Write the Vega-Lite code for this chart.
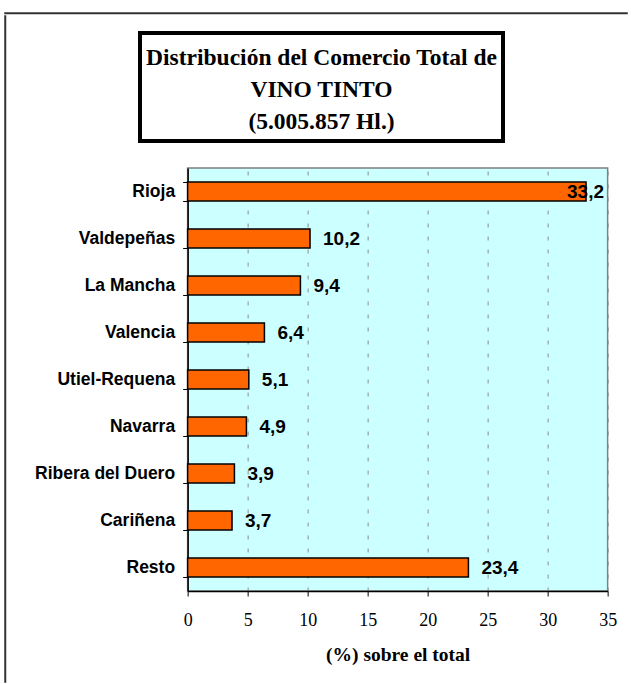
{
  "$schema": "https://vega.github.io/schema/vega-lite/v6.json",
  "padding": {"left": 4, "top": 12, "right": 0, "bottom": 0},
  "background": "white",
  "config": {
    "view": {"stroke": null},
    "locale": {"number": {"decimal": ",", "thousands": ".", "grouping": [3], "currency": ["", " €"]}}
  },
  "datasets": {
    "wine": [
      {"region": "Rioja", "pct": 33.2},
      {"region": "Valdepeñas", "pct": 10.2},
      {"region": "La Mancha", "pct": 9.4},
      {"region": "Valencia", "pct": 6.4},
      {"region": "Utiel-Requena", "pct": 5.1},
      {"region": "Navarra", "pct": 4.9},
      {"region": "Ribera del Duero", "pct": 3.9},
      {"region": "Cariñena", "pct": 3.7},
      {"region": "Resto", "pct": 23.4}
    ],
    "empty": []
  },
  "spacing": 0,
  "vconcat": [
    {
      "data": {"name": "empty"},
      "mark": "rect",
      "width": 622,
      "height": 0.5,
      "view": {"stroke": "#333333", "strokeWidth": 1.5}
    },
    {
      "spacing": 26,
      "hconcat": [
        {
          "data": {"name": "empty"},
          "mark": "rect",
          "width": 0.5,
          "height": 666,
          "view": {"stroke": "#333333", "strokeWidth": 1.5}
        },
        {
          "spacing": 0,
          "center": true,
          "vconcat": [
            {
              "data": {"name": "empty"},
              "mark": "rect",
              "width": 1,
              "height": 15
            },
            {
              "spacing": 0,
              "hconcat": [
                {
                  "data": {"values": [{}]},
                  "width": 363,
                  "height": 108,
                  "view": {"stroke": "black", "strokeWidth": 4, "fill": "white"},
                  "mark": {
                    "type": "text",
                    "text": ["Distribución del Comercio Total de", "VINO TINTO", "(5.005.857 Hl.)"],
                    "font": "Liberation Serif",
                    "fontWeight": "bold",
                    "fontSize": 23.5,
                    "lineHeight": 32,
                    "align": "center",
                    "baseline": "middle",
                    "dy": -29,
                    "color": "black"
                  }
                },
                {
                  "data": {"name": "empty"},
                  "mark": "rect",
                  "width": 160,
                  "height": 1
                }
              ]
            },
            {
              "data": {"name": "empty"},
              "mark": "rect",
              "width": 1,
              "height": 14.5
            },
            {
              "data": {"name": "wine"},
              "width": 420,
              "height": 423,
              "view": {"fill": "#CCFFFF", "stroke": "#808080", "strokeWidth": 1.5},
              "encoding": {
                "y": {
                  "field": "region",
                  "type": "nominal",
                  "sort": null,
                  "scale": {"paddingInner": 0.6, "paddingOuter": 0.3},
                  "axis": {
                    "title": null,
                    "labelFont": "Liberation Sans",
                    "labelFontWeight": "bold",
                    "labelFontSize": 17.5,
                    "labelColor": "black",
                    "labelPadding": 8,
                    "labelLimit": 300,
                    "tickSize": 5,
                    "tickColor": "black",
                    "tickBand": "extent",
                    "domainColor": "black",
                    "domainWidth": 1.5,
                    "minExtent": 153,
                    "maxExtent": 153
                  }
                },
                "x": {
                  "field": "pct",
                  "type": "quantitative",
                  "scale": {"domain": [0, 35], "nice": false},
                  "axis": {
                    "values": [0, 5, 10, 15, 20, 25, 30, 35],
                    "grid": true,
                    "gridDash": [4, 9],
                    "gridColor": "#8c8c8c",
                    "gridWidth": 1,
                    "labelFont": "Liberation Serif",
                    "labelFontSize": 18,
                    "labelColor": "black",
                    "labelPadding": 15,
                    "labelFlush": false,
                    "tickSize": 5,
                    "tickColor": "black",
                    "domainColor": "black",
                    "domainWidth": 1.5,
                    "title": "(%) sobre el total",
                    "titleFont": "Liberation Serif",
                    "titleFontSize": 19.5,
                    "titleFontWeight": "bold",
                    "titleColor": "black",
                    "titlePadding": 16
                  }
                }
              },
              "layer": [
                {
                  "mark": {"type": "bar", "fill": "#FF6600", "stroke": "black", "strokeWidth": 1.5}
                },
                {
                  "transform": [{"filter": "datum.pct <= 30"}],
                  "mark": {
                    "type": "text",
                    "align": "left",
                    "baseline": "middle",
                    "dx": 13,
                    "font": "Liberation Sans",
                    "fontWeight": "bold",
                    "fontSize": 19,
                    "color": "black"
                  },
                  "encoding": {"text": {"field": "pct", "type": "quantitative", "format": ".1f"}}
                },
                {
                  "transform": [{"filter": "datum.pct > 30"}],
                  "mark": {
                    "type": "text",
                    "align": "right",
                    "baseline": "middle",
                    "dx": 18,
                    "font": "Liberation Sans",
                    "fontWeight": "bold",
                    "fontSize": 19,
                    "color": "black"
                  },
                  "encoding": {"text": {"field": "pct", "type": "quantitative", "format": ".1f"}}
                }
              ]
            }
          ]
        }
      ]
    }
  ]
}
